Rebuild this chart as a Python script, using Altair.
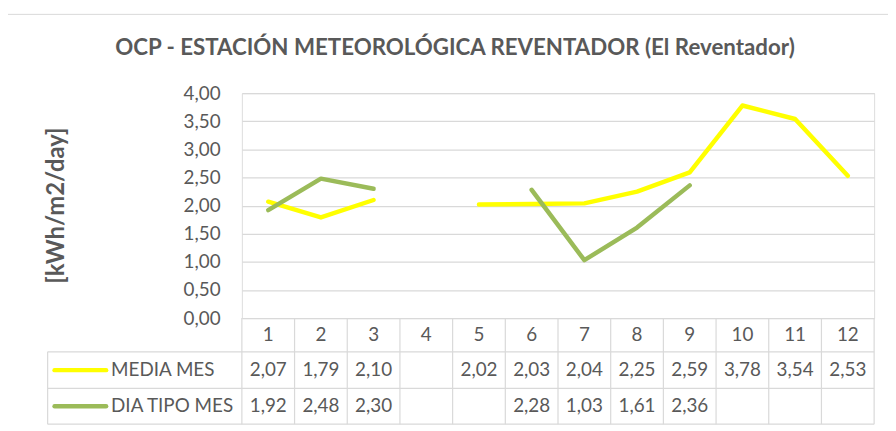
import altair as alt
import pandas as pd

# ---------------- data ----------------
months = list(range(1, 13))
media_mes = [2.07, 1.79, 2.10, None, 2.02, 2.03, 2.04, 2.25, 2.59, 3.78, 3.54, 2.53]
dia_tipo_mes = [1.92, 2.48, 2.30, None, None, 2.28, 1.03, 1.61, 2.36, None, None, None]
series_names = ["MEDIA MES", "DIA TIPO MES"]
series_colors = ["#FFFF00", "#9BBB59"]
y_ticks = [0.0, 0.5, 1.0, 1.5, 2.0, 2.5, 3.0, 3.5, 4.0]

TITLE = "OCP - ESTACIÓN METEOROLÓGICA REVENTADOR (El Reventador)"
Y_TITLE = "[kWh/m2/day]"

FONT = "Lato"
TXT = "#595959"
GRID = "#d9d9d9"
FS = 19

# ---------------- layout (plot units) ----------------
W, H = 638, 227
PX_X = W / 12.0          # px per month
PX_Y = H / 4.0           # px per kWh unit
def ux(px):              # pixel offset from plot left -> x data
    return 0.5 + px / PX_X
def uy(px):              # pixel offset below baseline -> y data
    return -px / PX_Y

hdr_bottom = uy(34)
row1_bottom = uy(71)
row2_bottom = uy(107)
hdr_c = uy(17)
row1_c = uy(52.5)
row2_c = uy(89)
leg_left = ux(-196)

# ---------------- frames ----------------
rows = []
for name, vals in zip(series_names, [media_mes, dia_tipo_mes]):
    seg = 0
    prev_none = True
    for m, v in zip(months, vals):
        if v is None:
            prev_none = True
            continue
        if prev_none:
            seg += 1
        prev_none = False
        rows.append({"series": name, "month": m, "value": v, "seg": f"{name}-{seg}"})
lines_df = pd.DataFrame(rows)

cells = []
for name, vals, yc in zip(series_names, [media_mes, dia_tipo_mes], [row1_c, row2_c]):
    for m, v in zip(months, vals):
        if v is not None:
            cells.append({"month": m, "y": yc, "label": f"{v:.2f}".replace(".", ",")})
cells_df = pd.DataFrame(cells)

hdr_df = pd.DataFrame({"month": months, "y": [hdr_c] * 12, "label": [str(m) for m in months]})

hrules = pd.DataFrame({"x": [leg_left] * 3, "x2": [12.5] * 3,
                       "y": [hdr_bottom, row1_bottom, row2_bottom]})
vr = [{"x": 0.5 + k, "y": 0.0, "y2": row2_bottom} for k in range(13)]
vr.append({"x": leg_left, "y": hdr_bottom, "y2": row2_bottom})
vrules = pd.DataFrame(vr)

leg_df = pd.DataFrame({"series": series_names,
                       "x": [ux(-189)] * 2, "x2": [ux(-137)] * 2,
                       "xt": [ux(-132)] * 2,
                       "y": [row1_c, row2_c]})

color_scale = alt.Scale(domain=series_names, range=series_colors)

xs = alt.Scale(domain=[0.5, 12.5], nice=False)
ys = alt.Scale(domain=[0, 4], nice=False)

Y_AXIS = alt.Axis(values=y_ticks,
                  labelExpr="replace(format(datum.value, '.2f'), '.', ',')",
                  labelOverlap=False,
                  grid=True, gridColor=GRID, gridWidth=1.2,
                  domain=False, ticks=False, labelPadding=22,
                  labelFont=FONT, labelFontSize=FS, labelColor=TXT,
                  title=Y_TITLE, titleFont=FONT, titleFontSize=24,
                  titleFontWeight="bold", titleColor=TXT,
                  titleX=-187, titleY=113, titleAngle=-90,
                  titleAlign="center", titleBaseline="middle")

def X(f):
    return alt.X(f, scale=xs, axis=None)

def Y(f):
    return alt.Y(f, scale=ys, axis=Y_AXIS, title=Y_TITLE)

# frame around chart
one = pd.DataFrame({"a": [0]})
frame = alt.Chart(one).mark_rect(
    fill=None, stroke=GRID, strokeWidth=1
).encode(x=alt.value(-236.5), x2=alt.value(700), y=alt.value(-79.5), y2=alt.value(400))

title_mark = alt.Chart(pd.DataFrame({"t": [TITLE]})).mark_text(
    font=FONT, fontSize=22.5, fontWeight="bold", color=TXT, align="center", baseline="middle"
).encode(x=alt.value(215), y=alt.value(-45), text="t:N")

hr = alt.Chart(hrules).mark_rule(color=GRID, strokeWidth=1.2).encode(
    x=X("x:Q"), x2="x2:Q", y=Y("y:Q"))
vrl = alt.Chart(vrules).mark_rule(color=GRID, strokeWidth=1.2).encode(
    x=X("x:Q"), y=Y("y:Q"), y2="y2:Q")

hdr = alt.Chart(hdr_df).mark_text(font=FONT, fontSize=FS, color=TXT, baseline="middle").encode(
    x=X("month:Q"), y=Y("y:Q"), text="label:N")
cells_t = alt.Chart(cells_df).mark_text(font=FONT, fontSize=FS, color=TXT, baseline="middle").encode(
    x=X("month:Q"), y=Y("y:Q"), text="label:N")

leg_line = alt.Chart(leg_df).mark_rule(strokeWidth=4.5, strokeCap="round").encode(
    x=X("x:Q"), x2="x2:Q", y=Y("y:Q"),
    color=alt.Color("series:N", scale=color_scale, legend=None))
leg_text = alt.Chart(leg_df).mark_text(font=FONT, fontSize=FS, color=TXT, align="left",
                                       baseline="middle").encode(
    x=X("xt:Q"), y=Y("y:Q"), text="series:N")

series_lines = alt.Chart(lines_df).mark_line(strokeWidth=4.5, strokeCap="round",
                                             strokeJoin="round").encode(
    x=X("month:Q"),
    y=Y("value:Q"),
    color=alt.Color("series:N", scale=color_scale, legend=None),
    detail="seg:N",
    order=alt.Order("month:Q"),
)

chart = alt.layer(
    series_lines.mark_line(opacity=0), frame, title_mark, hr, vrl, hdr, cells_t,
    leg_line, leg_text, series_lines
).properties(
    width=W, height=H,
    autosize=alt.AutoSizeParams(type="none"),
    padding={"left": 236, "top": 84, "right": 14, "bottom": 112},
).configure_view(strokeWidth=0).configure(background="white")

chart.save("out.html", embed_options={"renderer": "svg", "actions": False})
